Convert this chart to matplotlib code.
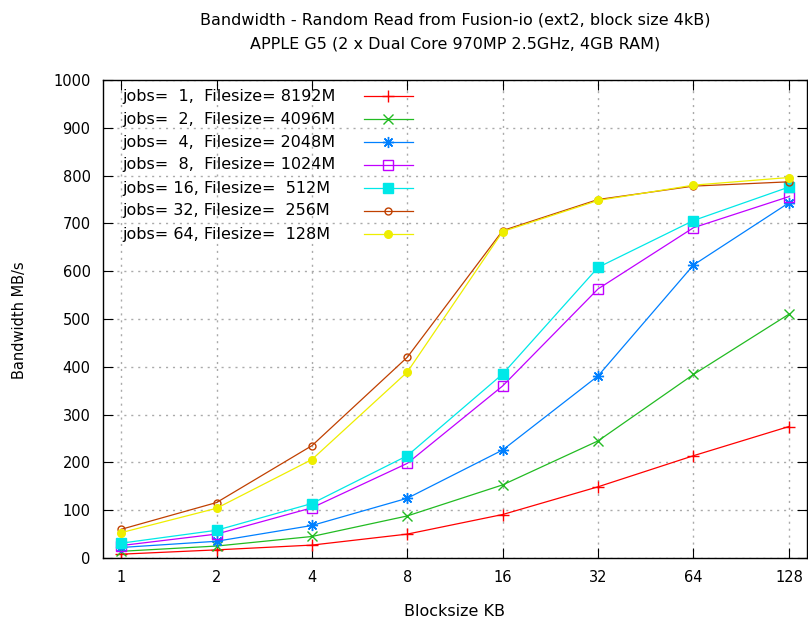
import numpy as np
import matplotlib
matplotlib.use('Agg')
import matplotlib.pyplot as plt
from matplotlib.lines import Line2D

plt.rcParams['font.family'] = ['DejaVu Sans']

# block sizes (KB)
blocksizes = [1, 2, 4, 8, 16, 32, 64, 128]

# bandwidth MB/s per job count
jobs1 = [8, 17, 27, 50, 91, 149, 214, 275]
jobs2 = [14, 25, 45, 88, 153, 245, 384, 510]
jobs4 = [22, 35, 68, 125, 226, 381, 613, 743]
jobs8 = [26, 50, 105, 198, 360, 563, 691, 756]
jobs16 = [31, 58, 114, 214, 385, 608, 706, 776]
jobs32 = [60, 116, 235, 420, 685, 750, 778, 787]
jobs64 = [53, 104, 206, 389, 683, 748, 780, 796]

labels = ["jobs=  1,  Filesize= 8192M",
          "jobs=  2,  Filesize= 4096M",
          "jobs=  4,  Filesize= 2048M",
          "jobs=  8,  Filesize= 1024M",
          "jobs= 16, Filesize=  512M",
          "jobs= 32, Filesize=  256M",
          "jobs= 64, Filesize=  128M"]

series = [jobs1, jobs2, jobs4, jobs8, jobs16, jobs32, jobs64]
colors = ['#ff0000', '#22bb22', '#0080ff', '#c000ff', '#00e8e8', '#c04000', '#eeee00']
markers = ['+', 'x', (8, 2, 0), 's', 's', 'o', 'o']
filled = [True, True, True, False, True, False, True]
msizes = [9, 7, 8, 6.5, 7, 5, 5.5]

fig = plt.figure(figsize=(8.08, 6.19), dpi=100)
W, H = 808, 619
left, right, top, bottom = 103, 807, 80, 558
ax = fig.add_axes([left / W, 1 - bottom / H, (right - left) / W, (bottom - top) / H])

x = np.log2(blocksizes)
styles = []
for ys, c, m, f, ms in zip(series, colors, markers, filled, msizes):
    kw = dict(color=c, marker=m, markersize=ms, lw=0.9, markeredgewidth=1.0)
    if not f:
        kw['markerfacecolor'] = 'none'
    ax.plot(x, ys, **kw)
    styles.append(kw)

ax.set_xlim(-0.19, 7.19)
ax.set_ylim(0, 1000)
ax.set_xticks(x)
ax.set_xticklabels([str(b) for b in blocksizes])
ax.set_yticks(range(0, 1001, 100))
ax.tick_params(direction='in', top=True, right=True, length=7, labelsize=10.5, pad=9)
ax.grid(True, color='#aaaaaa', linestyle=(0, (1.5, 3.5)), lw=1.0)
for s in ax.spines.values():
    s.set_linewidth(1.0)

fs = 11.5
fig.text(455 / W, 1 - 20 / H, "Bandwidth - Random Read from Fusion-io (ext2, block size 4kB)",
         ha='center', va='center', fontsize=fs)
fig.text(455 / W, 1 - 44 / H, "APPLE G5 (2 x Dual Core 970MP 2.5GHz, 4GB RAM)",
         ha='center', va='center', fontsize=fs)
fig.text(455 / W, 1 - 611 / H, "Blocksize KB", ha='center', va='center', fontsize=fs)
fig.text(20 / W, 1 - 320 / H, "Bandwidth MB/s", ha='center', va='center',
         rotation=90, fontsize=10.5)

# key, gnuplot style: text left, sample on the right
for i, (lab, kw) in enumerate(zip(labels, styles)):
    yy = 1 - (96 + 23 * i) / H
    fig.text(122 / W, yy, lab, ha='left', va='center', fontsize=fs)
    fig.add_artist(Line2D([364 / W, 413 / W], [yy, yy], transform=fig.transFigure,
                          color=kw['color'], lw=0.9))
    fig.add_artist(Line2D([388 / W], [yy], transform=fig.transFigure, color=kw['color'],
                          marker=kw['marker'], markersize=kw['markersize'],
                          markeredgewidth=1.0,
                          markerfacecolor=kw.get('markerfacecolor', kw['color'])))

fig.savefig('out.png', dpi=100)
